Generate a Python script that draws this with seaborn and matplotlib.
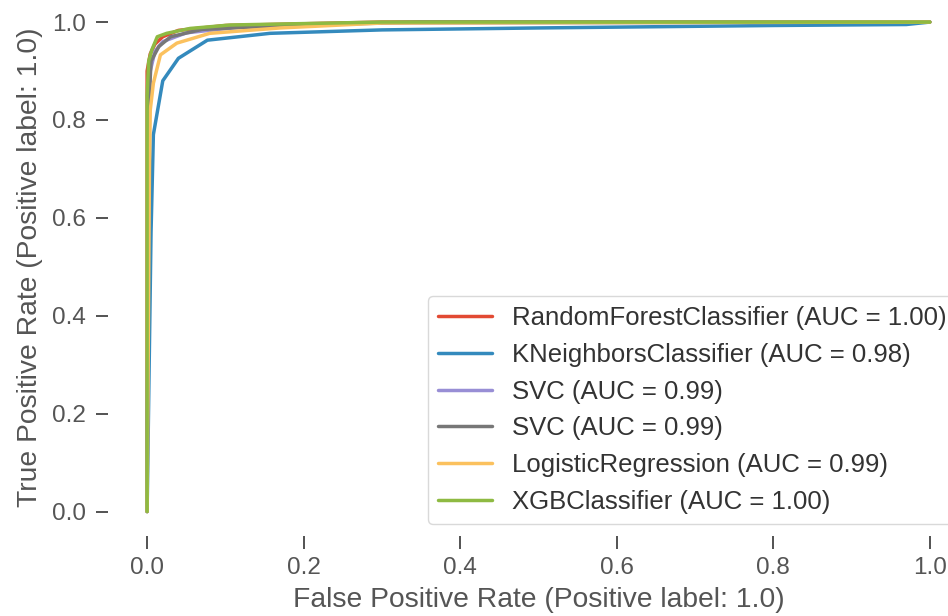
import matplotlib
matplotlib.use("Agg")
import matplotlib.pyplot as plt
import seaborn as sns

# ROC curves (false positive rate, true positive rate) per classifier
rf_fpr = [0.0, 0.0, 0.004, 0.01, 0.02, 0.04, 0.1, 0.3, 1.0]
rf_tpr = [0.0, 0.90, 0.935, 0.955, 0.970, 0.983, 0.993, 1.0, 1.0]

knn_fpr = [0.0, 0.005, 0.008, 0.02, 0.04, 0.077, 0.157, 0.30, 0.5, 0.8, 0.97, 1.0]
knn_tpr = [0.0, 0.57, 0.77, 0.88, 0.926, 0.963, 0.977, 0.984, 0.988, 0.993, 0.995, 1.0]

svc1_fpr = [0.0, 0.002, 0.004, 0.01, 0.02, 0.05, 0.12, 0.3, 1.0]
svc1_tpr = [0.0, 0.80, 0.90, 0.94, 0.96, 0.978, 0.99, 0.998, 1.0]

svc2_fpr = [0.0, 0.002, 0.005, 0.015, 0.03, 0.07, 0.2, 0.35, 1.0]
svc2_tpr = [0.0, 0.82, 0.92, 0.95, 0.97, 0.985, 0.995, 1.0, 1.0]

lr_fpr = [0.0, 0.003, 0.004, 0.008, 0.017, 0.038, 0.08, 0.17, 0.3, 1.0]
lr_tpr = [0.0, 0.70, 0.82, 0.875, 0.933, 0.957, 0.977, 0.988, 0.998, 1.0]

xgb_fpr = [0.0, 0.0, 0.002, 0.006, 0.013, 0.025, 0.055, 0.106, 0.3, 1.0]
xgb_tpr = [0.0, 0.85, 0.92, 0.943, 0.970, 0.977, 0.987, 0.994, 1.0, 1.0]

labels = [
    "RandomForestClassifier (AUC = 1.00)",
    "KNeighborsClassifier (AUC = 0.98)",
    "SVC (AUC = 0.99)",
    "SVC (AUC = 0.99)",
    "LogisticRegression (AUC = 0.99)",
    "XGBClassifier (AUC = 1.00)",
]
colors = ["#E24A33", "#348ABD", "#988ED5", "#777777", "#FBC15E", "#8EBA42"]

curves = [
    (rf_fpr, rf_tpr),
    (knn_fpr, knn_tpr),
    (svc1_fpr, svc1_tpr),
    (svc2_fpr, svc2_tpr),
    (lr_fpr, lr_tpr),
    (xgb_fpr, xgb_tpr),
]

sns.set_theme(style="ticks")
plt.rcParams["font.family"] = ["Liberation Sans", "DejaVu Sans"]

fig = plt.figure(figsize=(9.48, 6.16), dpi=100)
ax = fig.add_axes([0.1139, 0.1299, 0.9082, 0.874])

for (fpr, tpr), lab, col in zip(curves, labels, colors):
    sns.lineplot(x=fpr, y=tpr, ax=ax, label=lab, color=col,
                 estimator=None, sort=False, linewidth=2.5)

ax.set_xlim(-0.05, 1.05)
ax.set_ylim(-0.05, 1.05)
ax.set_xticks([0.0, 0.2, 0.4, 0.6, 0.8, 1.0])
ax.set_yticks([0.0, 0.2, 0.4, 0.6, 0.8, 1.0])
for s in ax.spines.values():
    s.set_visible(False)
ax.tick_params(axis="both", labelsize=17.5, length=9, width=1.3,
               color="#444444", labelcolor="#555555")
ax.tick_params(axis="y", pad=7)
ax.tick_params(axis="x", pad=6)
ax.set_xlabel("False Positive Rate (Positive label: 1.0)", fontsize=20.3,
              color="#555555", labelpad=6)
ax.set_ylabel("True Positive Rate (Positive label: 1.0)", fontsize=20.3,
              color="#555555", labelpad=6)

leg = ax.legend(loc="lower right", fontsize=18.5, frameon=True,
                handlelength=2.1, borderaxespad=0.45)
leg.get_frame().set_edgecolor("#d0d0d0")
for line in leg.get_lines():
    line.set_linewidth(2.5)
for t in leg.get_texts():
    t.set_color("#333333")

fig.savefig("out.png", dpi=100)
